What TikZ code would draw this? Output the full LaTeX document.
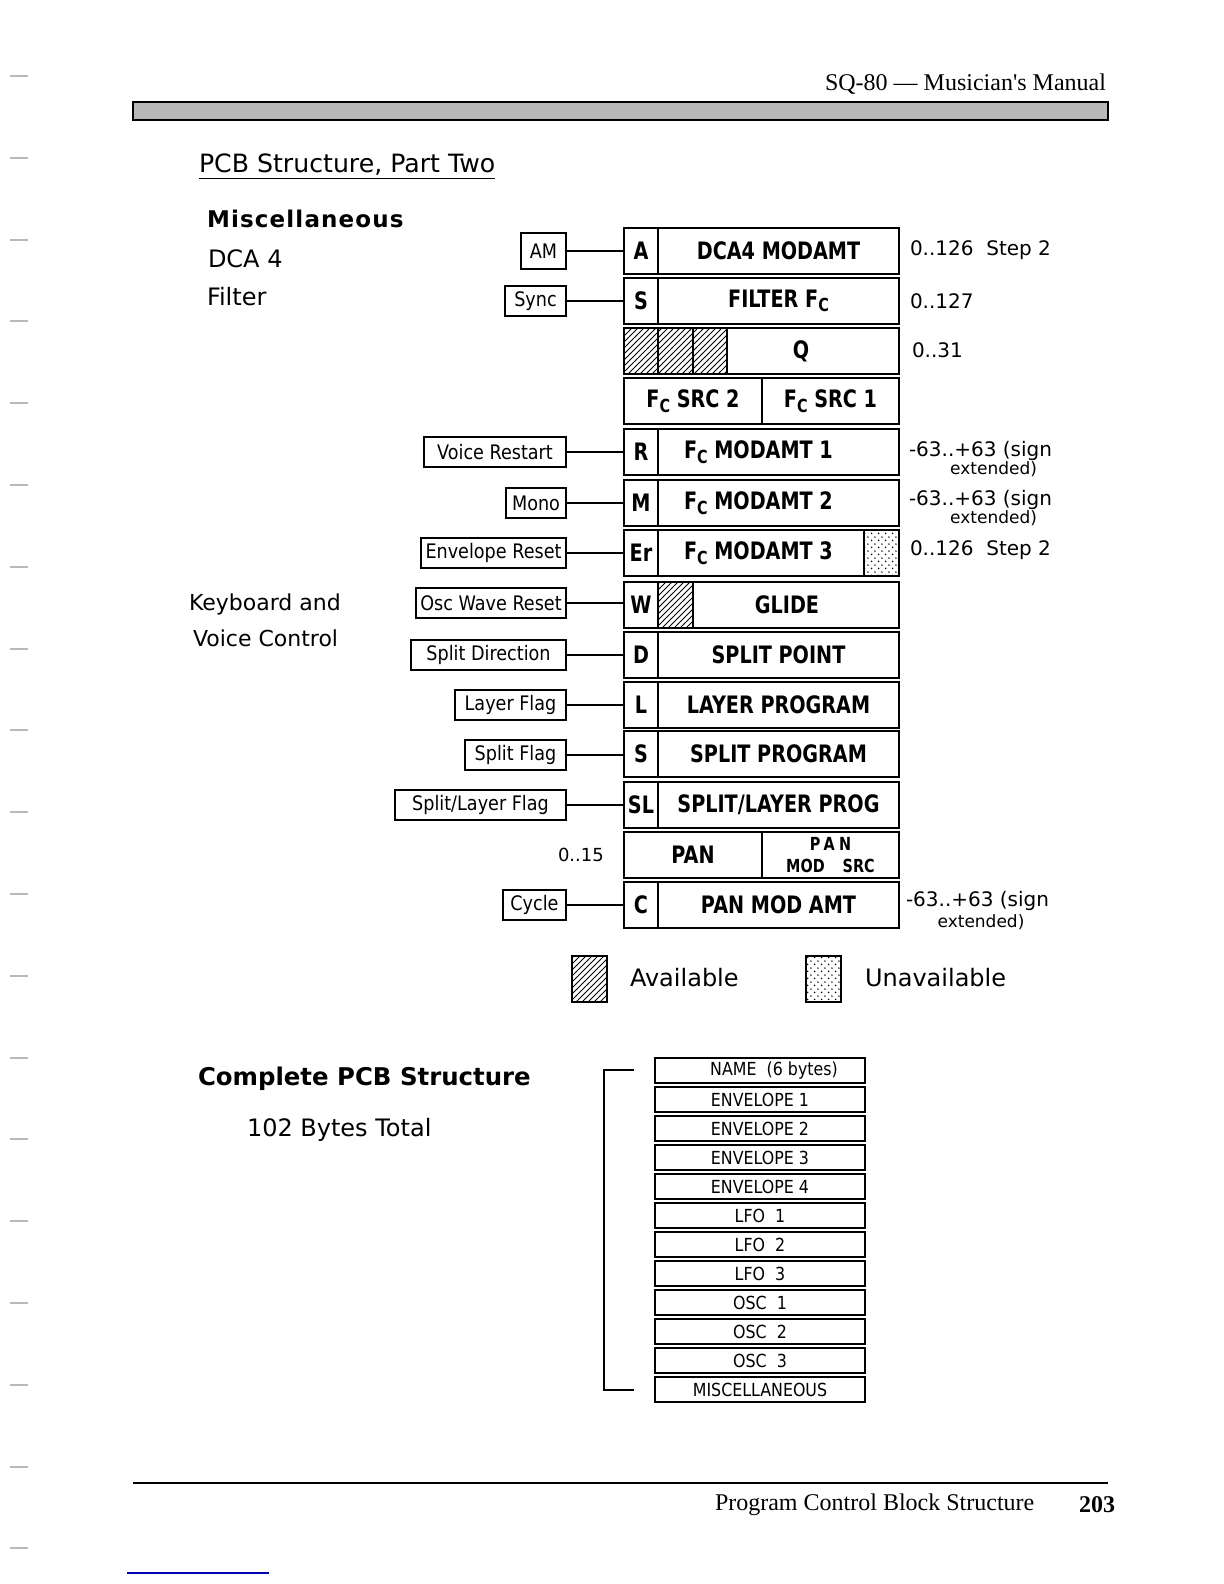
\documentclass[tikz,border=0pt]{standalone}
\usepackage{fontspec}
\setmainfont{DejaVu Sans}
\newfontfamily\chicago{DejaVu Sans}[FakeStretch=0.8]
\newfontfamily\geneva{DejaVu Sans}[FakeStretch=0.88]
\newfontfamily\serifhead{Liberation Serif}
\usepackage{tikz}
\usetikzlibrary{patterns}

\newcommand\boxfont{\chicago\bfseries\fontsize{12}{12}\selectfont}
\newcommand\tagfont{\geneva\fontsize{10}{10}\selectfont}
\newcommand\infofont{\fontsize{10}{10}\selectfont}
\newcommand\lstfont{\geneva\fontsize{9}{9}\selectfont}
\newcommand\fcap{F\raisebox{-.35ex}{\fontsize{9}{9}\selectfont C}}
\pgfdeclarepatternformonly{sparse dots}{\pgfpointorigin}{\pgfpoint{3.6pt}{3.6pt}}{\pgfpoint{3.6pt}{3.6pt}}{%
  \pgfpathcircle{\pgfpoint{.9pt}{.9pt}}{.45pt}\pgfpathcircle{\pgfpoint{2.7pt}{2.7pt}}{.45pt}\pgfusepath{fill}}

\begin{document}
\begin{tikzpicture}[x=0.5pt,y=-0.5pt,every node/.style={inner sep=0pt,outer sep=0pt},
  cell/.style={draw,line width=1.1pt,anchor=north west,minimum height=23pt,font=\boxfont},
  tag/.style={draw,line width=.9pt,anchor=east,minimum height=15pt,font=\tagfont},
  info/.style={anchor=west,font=\infofont},
  lst/.style={draw,line width=1pt,anchor=north west,minimum width=105pt,minimum height=12.5pt,font=\lstfont},
  wire/.style={line width=1pt}]
\useasboundingbox (0,0) rectangle (1224,1584);
% page head
\node[anchor=east,font=\serifhead\fontsize{12}{12}\selectfont] (runhead) at (1106,84) {SQ-80 — Musician's Manual};
\draw[line width=.8pt,fill=black!28] (133,102) rectangle (1108,120);
\node[anchor=west,font=\fontsize{12.6}{12.6}\selectfont] (title) at (199,167) {\underline{PCB Structure, Part Two}};
% left side text
\node[anchor=west,font=\bfseries\fontsize{11.5}{11.5}\selectfont\addfontfeature{LetterSpace=5}] (misc) at (207,219) {Miscellaneous};
\node[anchor=west,font=\fontsize{12}{12}\selectfont] (dca) at (208,259) {DCA 4};
\node[anchor=west,font=\fontsize{12}{12}\selectfont] (filt) at (207,297) {Filter};
\node[anchor=west,font=\fontsize{11}{11}\selectfont] (kbd) at (189,604) {Keyboard and};
\node[anchor=west,font=\fontsize{11}{11}\selectfont] (vctl) at (193,638) {Voice Control};
% rows of the block
\node[cell,minimum width=17pt] (cA) at (624,228) {A};
\node[cell,minimum width=120.5pt] (mA) at (658,228) {DCA4 MODAMT};
\node[cell,minimum width=17pt] (cS) at (624,278) {S};
\node[cell,minimum width=120.5pt] (mS) at (658,278) {FILTER \fcap};
\node[cell,minimum width=17pt,pattern=north east lines] (q1) at (624,328) {};
\node[cell,minimum width=17.5pt,pattern=north east lines] (q2) at (658,328) {};
\node[cell,minimum width=17pt,pattern=north east lines] (q3) at (693,328) {};
\node[cell,minimum width=86pt] (mQ) at (727,328) {};
\node[font=\boxfont] (tQ) at (801,351) {Q};
\node[cell,minimum width=69pt] (src2) at (624,378) {\fcap\ SRC 2};
\node[cell,minimum width=68.5pt] (src1) at (762,378) {\fcap\ SRC 1};
\node[cell,minimum width=17pt] (cR) at (624,429) {R};
\node[cell,minimum width=120.5pt] (mR) at (658,429) {};
\node[anchor=west,font=\boxfont] (tR) at (684,452) {\fcap\ MODAMT 1};
\node[cell,minimum width=17pt] (cM) at (624,480) {M};
\node[cell,minimum width=120.5pt] (mM) at (658,480) {};
\node[anchor=west,font=\boxfont] (tM) at (684,503) {\fcap\ MODAMT 2};
\node[cell,minimum width=17pt] (cEr) at (624,530) {Er};
\node[cell,minimum width=103pt] (mEr) at (658,530) {};
\node[cell,minimum width=17.5pt,pattern=sparse dots] (uEr) at (864,530) {};
\node[anchor=west,font=\boxfont] (tEr) at (684,553) {\fcap\ MODAMT 3};
\node[cell,minimum width=17pt] (cW) at (624,582) {W};
\node[cell,minimum width=17.5pt,pattern=north east lines] (aW) at (658,582) {};
\node[cell,minimum width=103pt] (mW) at (693,582) {};
\node[font=\boxfont] (tW) at (787,605) {GLIDE};
\node[cell,minimum width=17pt] (cD) at (624,632) {D};
\node[cell,minimum width=120.5pt] (mD) at (658,632) {SPLIT POINT};
\node[cell,minimum width=17pt] (cL) at (624,682) {L};
\node[cell,minimum width=120.5pt] (mL) at (658,682) {LAYER PROGRAM};
\node[cell,minimum width=17pt] (cS2) at (624,731) {S};
\node[cell,minimum width=120.5pt] (mS2) at (658,731) {SPLIT PROGRAM};
\node[cell,minimum width=17pt] (cSL) at (624,782) {SL};
\node[cell,minimum width=120.5pt] (mSL) at (658,782) {SPLIT/LAYER PROG};
\node[cell,minimum width=69pt] (pan) at (624,832) {PAN};
\node[cell,minimum width=68.5pt,align=center,font=\chicago\bfseries\fontsize{9}{11}\selectfont] (pms) at (762,832) {\addfontfeature{LetterSpace=25}PAN\\MOD\quad SRC};
\node[cell,minimum width=17pt] (cC) at (624,882) {C};
\node[cell,minimum width=120.5pt] (mC) at (658,882) {PAN MOD AMT};
% switches on the left
\node[tag,minimum width=22.5pt,minimum height=18pt] (am) at (566,251) {AM};
\node[tag,minimum width=30.5pt] (sync) at (566,301) {Sync};
\node[tag,minimum width=71pt] (vrst) at (566,452) {Voice Restart};
\node[tag,minimum width=30pt] (mono) at (566,503) {Mono};
\node[tag,minimum width=72.5pt] (envr) at (566,553) {Envelope Reset};
\node[tag,minimum width=75pt] (oscr) at (566,603) {Osc Wave Reset};
\node[tag,minimum width=77.5pt] (sdir) at (566,655) {Split Direction};
\node[tag,minimum width=55.5pt] (lflg) at (566,705) {Layer Flag};
\node[tag,minimum width=50.5pt] (sflg) at (566,755) {Split Flag};
\node[tag,minimum width=85.5pt] (slflg) at (566,805) {Split/Layer Flag};
\node[tag,minimum width=31.5pt] (cyc) at (566,905) {Cycle};
\draw[wire] (am.east) -- (am.east -| cA.west);
\draw[wire] (sync.east) -- (sync.east -| cS.west);
\draw[wire] (vrst.east) -- (vrst.east -| cR.west);
\draw[wire] (mono.east) -- (mono.east -| cM.west);
\draw[wire] (envr.east) -- (envr.east -| cEr.west);
\draw[wire] (oscr.east) -- (oscr.east -| cW.west);
\draw[wire] (sdir.east) -- (sdir.east -| cD.west);
\draw[wire] (lflg.east) -- (lflg.east -| cL.west);
\draw[wire] (sflg.east) -- (sflg.east -| cS2.west);
\draw[wire] (slflg.east) -- (slflg.east -| cSL.west);
\draw[wire] (cyc.east) -- (cyc.east -| cC.west);
\node[anchor=west,font=\fontsize{9}{9}\selectfont] (rpan) at (558,855) {0..15};
% ranges on the right
\node[info] (rA) at (910,250) {0..126\ \ Step 2};
\node[info] (rS) at (910,301) {0..127};
\node[info] (rQ) at (912,350) {0..31};
\node[info] (rR) at (909,451) {-63..+63 (sign};
\node[anchor=east,font=\fontsize{8.5}{8.5}\selectfont] (eR) at (1037,469) {extended)};
\node[info] (rM) at (909,500) {-63..+63 (sign};
\node[anchor=east,font=\fontsize{8.5}{8.5}\selectfont] (eM) at (1037,518) {extended)};
\node[info] (rEr) at (910,550) {0..126\ \ Step 2};
\node[info] (rC) at (906,901) {-63..+63 (sign};
\node[font=\fontsize{8.5}{8.5}\selectfont] (eC) at (981,922) {extended)};
% key
\node[draw,line width=1pt,pattern=north east lines,anchor=north west,minimum width=17.5pt,minimum height=23pt] (avbox) at (572,956) {};
\node[anchor=west,font=\fontsize{12}{12}\selectfont] (avtxt) at (630,978) {Available};
\node[draw,line width=1pt,pattern=sparse dots,anchor=north west,minimum width=17.5pt,minimum height=23pt] (unbox) at (806,956) {};
\node[anchor=west,font=\fontsize{12}{12}\selectfont] (untxt) at (865,978) {Unavailable};
% complete structure
\node[anchor=west,font=\bfseries\fontsize{12.2}{12.2}\selectfont] (cpcb) at (198,1079) {Complete PCB Structure};
\node[anchor=west,font=\fontsize{12}{12}\selectfont] (tot) at (247,1130) {102 Bytes Total};
\node[lst] (b1) at (655,1058) {\hspace{14pt}NAME\ \ (6 bytes)};
\node[lst] (b2) at (655,1087) {ENVELOPE 1};
\node[lst] (b3) at (655,1116) {ENVELOPE 2};
\node[lst] (b4) at (655,1145) {ENVELOPE 3};
\node[lst] (b5) at (655,1174) {ENVELOPE 4};
\node[lst] (b6) at (655,1203) {LFO\ \ 1};
\node[lst] (b7) at (655,1232) {LFO\ \ 2};
\node[lst] (b8) at (655,1261) {LFO\ \ 3};
\node[lst] (b9) at (655,1290) {OSC\ \ 1};
\node[lst] (b10) at (655,1319) {OSC\ \ 2};
\node[lst] (b11) at (655,1348) {OSC\ \ 3};
\node[lst] (b12) at (655,1377) {MISCELLANEOUS};
\coordinate (brtop) at (634,1070);
\coordinate (brbot) at (634,1390);
\draw[line width=1pt] (brtop) -- (604,1070) -- (604,1390) -- (brbot);
% page foot
\draw[line width=1pt] (133,1483) -- (1108,1483);
\node[anchor=west,font=\serifhead\fontsize{12}{12}\selectfont] (foot) at (715,1505) {Program Control Block Structure};
\node[anchor=west,font=\serifhead\bfseries\fontsize{12}{12}\selectfont] (pgno) at (1079,1505) {203};
\draw[blue!70!black,line width=.8pt] (127,1573) -- (269,1573);
% marks at the left edge
\draw[gray!55,line width=.6pt] (10,76) -- (28,76);
\draw[gray!55,line width=.6pt] (10,158) -- (28,158);
\draw[gray!55,line width=.6pt] (10,240) -- (28,240);
\draw[gray!55,line width=.6pt] (10,321) -- (28,321);
\draw[gray!55,line width=.6pt] (10,403) -- (28,403);
\draw[gray!55,line width=.6pt] (10,485) -- (28,485);
\draw[gray!55,line width=.6pt] (10,567) -- (28,567);
\draw[gray!55,line width=.6pt] (10,649) -- (28,649);
\draw[gray!55,line width=.6pt] (10,730) -- (28,730);
\draw[gray!55,line width=.6pt] (10,812) -- (28,812);
\draw[gray!55,line width=.6pt] (10,894) -- (28,894);
\draw[gray!55,line width=.6pt] (10,976) -- (28,976);
\draw[gray!55,line width=.6pt] (10,1058) -- (28,1058);
\draw[gray!55,line width=.6pt] (10,1139) -- (28,1139);
\draw[gray!55,line width=.6pt] (10,1221) -- (28,1221);
\draw[gray!55,line width=.6pt] (10,1303) -- (28,1303);
\draw[gray!55,line width=.6pt] (10,1385) -- (28,1385);
\draw[gray!55,line width=.6pt] (10,1467) -- (28,1467);
\draw[gray!55,line width=.6pt] (10,1548) -- (28,1548);
\end{tikzpicture}
\end{document}
